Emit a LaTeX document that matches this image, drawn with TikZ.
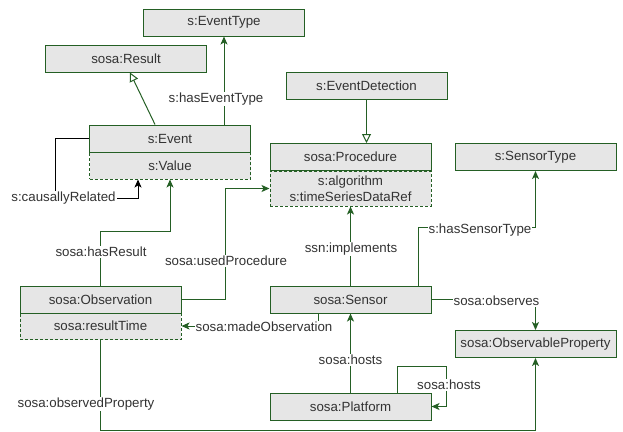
\documentclass[tikz,border=0pt]{standalone}
\usepackage{fontspec}
\setmainfont{Liberation Sans}
\usetikzlibrary{arrows.meta}
\definecolor{dgreen}{HTML}{245F24}
\definecolor{boxgray}{HTML}{E6E6E6}
\definecolor{txtgray}{HTML}{333333}

\begin{document}
\begin{tikzpicture}[x=1pt,y=-1pt,
  font=\fontsize{13.3}{15.5}\selectfont,text=txtgray,
  cls/.style={draw=dgreen,fill=boxgray,line width=1pt,minimum width=161pt,minimum height=27pt,inner sep=0pt},
  attr/.style={cls,dash pattern=on 3pt off 2pt},
  lbl/.style={fill=white,inner sep=1pt},
  rel/.style={draw=dgreen,line width=1pt,-{Stealth[length=8pt,width=7pt,inset=2pt,fill=dgreen]}},
  isa/.style={draw=dgreen,line width=1pt,-{Triangle[open,length=9pt,width=9pt,fill=white]}}]
  \useasboundingbox (0,0) rectangle (623,431);

  \node[cls] (etype) at (224,22.5) {s:EventType};
  \node[cls] (res) at (126,58.5) {sosa:Result};
  \node[attr] (val) at (170,165.5) {s:Value};
  \node[cls] (ev) at (170,138.5) {s:Event};
  \node[cls] (edet) at (366.5,85.5) {s:EventDetection};
  \node[attr,minimum height=35pt,align=center] (pattr) at (350.5,188.5) {s:algorithm\\s:timeSeriesDataRef};
  \node[cls] (proc) at (350.5,157) {sosa:Procedure};
  \node[cls] (stype) at (535.5,157) {s:SensorType};
  \node[attr] (rt) at (100.5,326) {sosa:resultTime};
  \node[cls] (obs) at (100.5,299.5) {sosa:Observation};
  \node[cls] (sens) at (350.5,299.5) {sosa:Sensor};
  \node[cls] (oprop) at (535.5,344) {sosa:ObservableProperty};
  \node[cls] (plat) at (350.5,406.5) {sosa:Platform};

  \draw[rel] (etype.south |- ev.north) -- (etype.south);
  \draw[isa] ([xshift=-15pt]ev.north) -- ([xshift=4pt]res.south);
  \draw[isa] (edet.south) -- (edet.south |- proc.north);
  \coordinate (cr) at (55,198);
  \draw[line width=1pt,-{Stealth[length=8pt,width=7pt,inset=2pt]}] (ev.west) -| (cr) -| ([xshift=-32pt]val.south);
  \draw[rel] (obs.north) -- ++(0,-54) -| (val.south);
  \draw[rel] (obs.east) -- ++(44,0) |- (pattr.west);
  \draw[rel] (sens.north) -- (pattr.south);
  \draw[rel] ([xshift=68pt]sens.north) -- ++(0,-58) -| (stype.south);
  \draw[rel] (sens.east) -| (oprop.north);
  \draw[rel] ([xshift=-32pt]sens.south) |- (rt.east);
  \draw[rel] (plat.north) -- (sens.south);
  \draw[rel] ([xshift=47pt]plat.north) -- ++(0,-26) -- ++(49,0) |- (plat.east);
  \draw[rel] (rt.south) -- ++(0,90) -| (oprop.south);

  \node[lbl] (lhet) at (216,99) {s:hasEventType};
  \node[lbl] (lcr) at (63.5,198) {s:causallyRelated};
  \node[lbl] (lhr) at (101,252) {sosa:hasResult};
  \node[lbl] (lup) at (226,261) {sosa:usedProcedure};
  \node[lbl] (limp) at (351,249) {ssn:implements};
  \node[lbl] (lhst) at (480,230) {s:hasSensorType};
  \node[lbl] (lobs) at (496.5,301) {sosa:observes};
  \node[lbl] (lmo) at (264,327) {sosa:madeObservation};
  \node[lbl] (lh1) at (350.5,360) {sosa:hosts};
  \node[lbl] (lh2) at (449,385) {sosa:hosts};
  \node[lbl] (lop) at (86,404) {sosa:observedProperty};
\end{tikzpicture}
\end{document}
